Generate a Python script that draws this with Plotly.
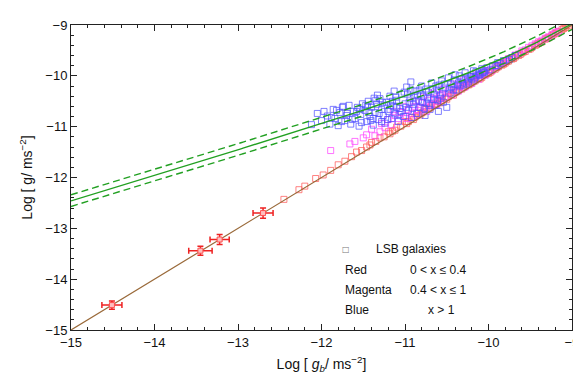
import numpy as np
import plotly.graph_objects as go

# ---------------- data ----------------
# calibration galaxies with error bars (log g_b, log g)
cal_x = [-14.51, -13.45, -13.22, -12.70]
cal_y = [-14.51, -13.44, -13.22, -12.70]
cal_ex = [0.12, 0.14, 0.115, 0.12]
cal_ey = [0.08, 0.09, 0.10, 0.10]

# LSB galaxies, red: 0 < x <= 0.4
red_x = [-12.45, -12.27, -12.20, -12.07, -11.98, -11.89, -11.80, -11.72, -11.64, -11.58,
         -11.52, -11.46, -11.40, -11.35, -11.30, -11.25, -11.20, -11.15, -11.10, -11.05,
         -11.00, -10.96, -10.92, -10.88, -10.84, -10.80, -10.76, -10.72, -10.68, -10.64,
         -10.60, -10.56, -10.52, -10.48, -10.44, -10.40, -10.36, -10.32, -10.28, -10.24,
         -10.20, -10.16, -10.12, -10.08, -10.04, -10.00, -9.96, -9.92, -9.88, -9.84,
         -9.80, -9.76, -9.72, -9.68, -9.64, -9.60, -9.56, -9.52, -9.48, -9.44,
         -9.40, -9.36, -9.32, -9.28, -9.24, -9.20, -9.16, -9.12, -9.08, -9.04,
         -11.42, -11.18, -10.98, -10.78, -10.58, -10.38, -10.18, -9.98, -9.78, -9.58,
         -9.38, -9.18, -10.90, -10.70, -10.50, -10.30, -10.10, -9.90, -9.70, -9.50,
         -9.30, -9.10, -11.12, -10.82, -10.62, -10.42, -10.22, -10.02, -9.82, -9.62,
         -9.42, -9.22, -9.06]
red_y = [-12.43, -12.24, -12.17, -12.02, -11.95, -11.86, -11.75, -11.68, -11.59, -11.50,
         -11.47, -11.40, -11.31, -11.29, -11.22, -11.20, -11.10, -11.09, -11.01, -10.99,
         -10.90, -10.90, -10.82, -10.81, -10.74, -10.73, -10.66, -10.65, -10.59, -10.57,
         -10.50, -10.49, -10.43, -10.41, -10.36, -10.33, -10.28, -10.26, -10.20, -10.18,
         -10.13, -10.10, -10.05, -10.03, -9.97, -9.95, -9.90, -9.87, -9.82, -9.79,
         -9.75, -9.71, -9.67, -9.63, -9.60, -9.55, -9.52, -9.48, -9.44, -9.40,
         -9.36, -9.33, -9.28, -9.25, -9.21, -9.17, -9.13, -9.09, -9.05, -9.02,
         -11.36, -11.14, -10.94, -10.71, -10.53, -10.31, -10.11, -9.93, -9.72, -9.53,
         -9.34, -9.14, -10.86, -10.63, -10.46, -10.23, -10.06, -9.84, -9.66, -9.47,
         -9.26, -9.07, -11.07, -10.77, -10.55, -10.38, -10.16, -9.96, -9.77, -9.58,
         -9.38, -9.18, -9.01]

# LSB galaxies, magenta: 0.4 < x <= 1
mag_x = [-11.89, -11.66, -11.60, -11.50, -11.46, -11.40, -11.36, -11.30, -11.28, -11.24,
         -11.20, -11.16, -11.12, -11.08, -11.04, -11.00, -10.96, -10.92, -10.88, -10.84,
         -10.80, -10.76, -10.72, -10.68, -10.64, -10.60, -10.56, -10.52, -10.48, -10.44,
         -10.40, -10.36, -10.32, -10.28, -10.24, -10.20, -10.16, -10.12, -10.08, -10.04,
         -10.00, -9.96, -9.92, -9.88, -9.84, -9.80, -9.76, -9.72, -9.68, -9.64,
         -9.60, -9.56, -9.52, -9.48, -9.44, -9.40, -9.36, -9.32, -9.28, -9.24,
         -9.20, -9.16, -11.02, -10.90, -10.78, -10.66, -10.54, -10.42, -10.30, -10.18,
         -10.06, -11.14, -10.86, -10.74, -10.62, -10.98, -10.82, -10.58, -10.34, -10.10]
mag_y = [-11.47, -11.34, -11.29, -11.22, -11.16, -11.05, -11.18, -11.10, -10.94, -11.02,
         -10.86, -10.96, -10.78, -10.84, -10.72, -10.80, -10.66, -10.74, -10.60, -10.68,
         -10.52, -10.62, -10.48, -10.56, -10.44, -10.50, -10.36, -10.44, -10.30, -10.38,
         -10.22, -10.30, -10.16, -10.22, -10.10, -10.15, -10.02, -10.07, -9.96, -9.99,
         -9.90, -9.90, -9.82, -9.80, -9.74, -9.72, -9.66, -9.64, -9.59, -9.57,
         -9.51, -9.49, -9.44, -9.41, -9.37, -9.33, -9.30, -9.26, -9.23, -9.19,
         -9.15, -9.12, -10.60, -10.50, -10.42, -10.34, -10.26, -10.16, -10.08, -9.98,
         -9.90, -10.70, -10.78, -10.70, -10.58, -10.84, -10.62, -10.40, -10.20, -10.00]

# LSB galaxies, blue: x > 1
blue_x = [-12.12, -12.05, -12.00, -11.97, -11.93, -11.90, -11.86, -11.84, -11.80, -11.78,
          -11.75, -11.72, -11.70, -11.67, -11.65, -11.62, -11.60, -11.57, -11.55, -11.53,
          -11.51, -11.48, -11.46, -11.44, -11.42, -11.40, -11.38, -11.36, -11.34, -11.32,
          -11.30, -11.28, -11.26, -11.24, -11.22, -11.20, -11.18, -11.16, -11.14, -11.12,
          -11.10, -11.08, -11.06, -11.04, -11.02, -11.00, -11.45, -11.35, -11.25, -11.15,
          -11.05, -11.38, -11.28, -11.18, -11.10, -11.43, -10.98, -10.96, -10.94, -10.92,
          -10.90, -10.88, -10.86, -10.84, -10.82, -10.80, -10.78, -10.76, -10.74, -10.72,
          -10.70, -10.68, -10.66, -10.64, -10.62, -10.60, -10.58, -10.56, -10.54, -10.52,
          -10.50, -10.97, -10.91, -10.85, -10.79, -10.73, -10.67, -10.61, -10.55, -10.95,
          -10.83, -10.71, -10.59, -10.89, -10.77, -10.65, -10.48, -10.46, -10.44, -10.42,
          -10.40, -10.38, -10.36, -10.34, -10.32, -10.30, -10.28, -10.26, -10.24, -10.22,
          -10.20, -10.18, -10.16, -10.14, -10.12, -10.10, -10.08, -10.06, -10.04, -10.02,
          -10.45, -10.35, -10.25, -10.15, -10.05, -9.98, -9.95, -9.92, -9.89, -9.86,
          -9.82, -9.79, -9.75, -9.72, -9.68, -9.90,
          -11.88, -11.82, -11.76, -11.69, -11.63, -11.58, -11.52, -11.47, -11.41, -11.37,
          -11.31, -11.27, -11.21, -11.17, -11.11, -11.07, -11.01, -10.99, -10.93, -10.87,
          -10.81, -10.75, -10.69, -10.63, -10.57, -10.53, -10.47, -10.41, -10.37, -10.31,
          -10.27, -10.21, -10.17, -10.11, -10.07, -11.74, -11.54, -11.33, -11.13, -10.93]
blue_y = [-10.96, -10.74, -10.88, -10.70, -10.79, -10.95, -10.66, -10.84, -10.98, -10.72,
          -10.62, -10.88, -10.78, -10.58, -10.95, -10.70, -10.84, -10.62, -10.99, -10.76,
          -10.55, -10.68, -10.90, -10.50, -10.80, -10.62, -10.97, -10.72, -10.56, -10.86,
          -10.45, -10.66, -10.78, -10.93, -10.52, -10.70, -10.40, -10.84, -10.60, -10.75,
          -10.48, -10.90, -10.64, -10.36, -10.80, -10.55, -10.60, -10.48, -10.58, -10.50,
          -10.70, -10.84, -10.90, -10.66, -10.62, -10.72, -10.22, -10.68, -10.44, -10.82,
          -10.56, -10.30, -10.74, -10.48, -10.62, -10.20, -10.40, -10.78, -10.54, -10.32,
          -10.66, -10.14, -10.46, -10.58, -10.28, -10.70, -10.38, -10.10, -10.52, -10.24,
          -10.62, -10.36, -10.64, -10.38, -10.52, -10.44, -10.26, -10.48, -10.34, -10.52,
          -10.28, -10.58, -10.18, -10.42, -10.64, -10.36, -10.04, -10.34, -10.22, -10.28,
          -9.98, -10.28, -10.14, -10.20, -10.06, -10.18, -9.94, -10.16, -10.12, -10.02,
          -10.06, -9.90, -10.04, -10.00, -9.96, -9.98, -9.86, -9.92, -9.90, -9.84,
          -10.16, -10.00, -10.08, -9.92, -9.94, -9.88, -9.80, -9.80, -9.74, -9.76,
          -9.70, -9.70, -9.68, -9.64, -9.60, -9.80,
          -10.82, -10.68, -10.90, -10.74, -10.86, -10.70, -10.92, -10.58, -10.88, -10.44,
          -10.74, -10.52, -10.86, -10.58, -10.42, -10.76, -10.32, -10.62, -10.28, -10.50,
          -10.36, -10.26, -10.42, -10.20, -10.44, -10.16, -10.26, -10.08, -10.18, -10.14,
          -10.04, -10.02, -10.08, -9.98, -9.94, -10.60, -10.66, -10.38, -10.30, -10.12]

# model curves
A0 = 1.2e-10           # acceleration scale, m s^-2
SCATTER_UP = 0.12      # dex
SCATTER_DN = 0.11      # dex
X_RANGE = [-15, -9]
Y_RANGE = [-15, -9]

# legend block text
legend_rows = [("Red", "0 < x ≤ 0.4"), ("Magenta", "0.4 < x ≤ 1"), ("Blue", "x > 1")]

# ---------------- figure ----------------
RED = "rgba(255,90,90,0.75)"
MAG = "rgba(255,70,255,0.75)"
BLUE = "rgba(80,80,255,0.72)"
GREEN = "#22a022"
BROWN = "#9a6a3a"
FONT = "Liberation Sans, Arial, sans-serif"

gb = np.linspace(X_RANGE[0], X_RANGE[1], 400)
gbl = 10.0 ** gb
rar = np.log10(gbl / (1.0 - np.exp(-np.sqrt(gbl / A0))))

fig = go.Figure()

def pts(x, y, c):
    fig.add_trace(go.Scatter(x=x, y=y, mode="markers",
                             marker=dict(symbol="square-open", size=6,
                                         color=c, line=dict(width=1, color=c)),
                             hoverinfo="skip", showlegend=False))

pts(red_x, red_y, RED)
pts(mag_x, mag_y, MAG)
pts(blue_x, blue_y, BLUE)

fig.add_trace(go.Scatter(x=gb, y=gb, mode="lines",
                         line=dict(color=BROWN, width=1.2), showlegend=False))
fig.add_trace(go.Scatter(x=gb, y=rar, mode="lines",
                         line=dict(color=GREEN, width=1.4), showlegend=False))
fig.add_trace(go.Scatter(x=gb, y=rar + SCATTER_UP, mode="lines",
                         line=dict(color=GREEN, width=1.4, dash="7px,4px"), showlegend=False))
fig.add_trace(go.Scatter(x=gb, y=rar - SCATTER_DN, mode="lines",
                         line=dict(color=GREEN, width=1.4, dash="7px,4px"), showlegend=False))

fig.add_trace(go.Scatter(
    x=cal_x, y=cal_y, mode="markers",
    marker=dict(symbol="square", size=5, color="rgba(255,190,190,1)",
                line=dict(width=1, color="rgba(255,80,80,1)")),
    error_x=dict(type="data", array=cal_ex, color="#ee2222", thickness=1.5, width=3),
    error_y=dict(type="data", array=cal_ey, color="#ee2222", thickness=1.5, width=3),
    showlegend=False))

# legend block (paper coordinates)
fig.add_annotation(x=0.548, y=0.265, xref="paper", yref="paper", text="□",
                   showarrow=False, xanchor="center", yanchor="middle",
                   font=dict(family="DejaVu Sans", size=8, color="#777"))
fig.add_annotation(x=0.605, y=0.265, xref="paper", yref="paper", text="LSB galaxies",
                   showarrow=False, xanchor="left", yanchor="middle",
                   font=dict(family=FONT, size=12, color="#111"))
row_y = [0.198, 0.131, 0.066]
col2_x = [0.672, 0.672, 0.708]
for (name, rng), ry, cx in zip(legend_rows, row_y, col2_x):
    fig.add_annotation(x=0.543, y=ry, xref="paper", yref="paper", text=name,
                       showarrow=False, xanchor="left", yanchor="middle",
                       font=dict(family=FONT, size=12, color="#111"))
    fig.add_annotation(x=cx, y=ry, xref="paper", yref="paper", text=rng,
                       showarrow=False, xanchor="left", yanchor="middle",
                       font=dict(family=FONT, size=12, color="#111"))

axis_common = dict(
    showgrid=False, zeroline=False, showline=True, linecolor="#222", linewidth=1,
    mirror="ticks", ticks="inside", ticklen=6, tickwidth=1, tickcolor="#222",
    dtick=1, tickfont=dict(family=FONT, size=13, color="#111"),
    minor=dict(dtick=0.2, ticks="inside", ticklen=3, tickwidth=1, tickcolor="#222"),
)
fig.update_xaxes(range=X_RANGE, tick0=-15, **axis_common,
                 title=dict(text="Log [ <i>g<sub>b</sub></i>/ ms<sup>−2</sup>]",
                            font=dict(family=FONT, size=14, color="#111"), standoff=10))
fig.update_yaxes(range=Y_RANGE, tick0=-15, **axis_common,
                 title=dict(text="Log [ g/ ms<sup>−2</sup>]",
                            font=dict(family=FONT, size=14, color="#111"), standoff=9))

fig.update_layout(width=581, height=382, margin=dict(l=63, r=12, t=10, b=60),
                  plot_bgcolor="white", paper_bgcolor="white")

fig.write_html("out.html")
